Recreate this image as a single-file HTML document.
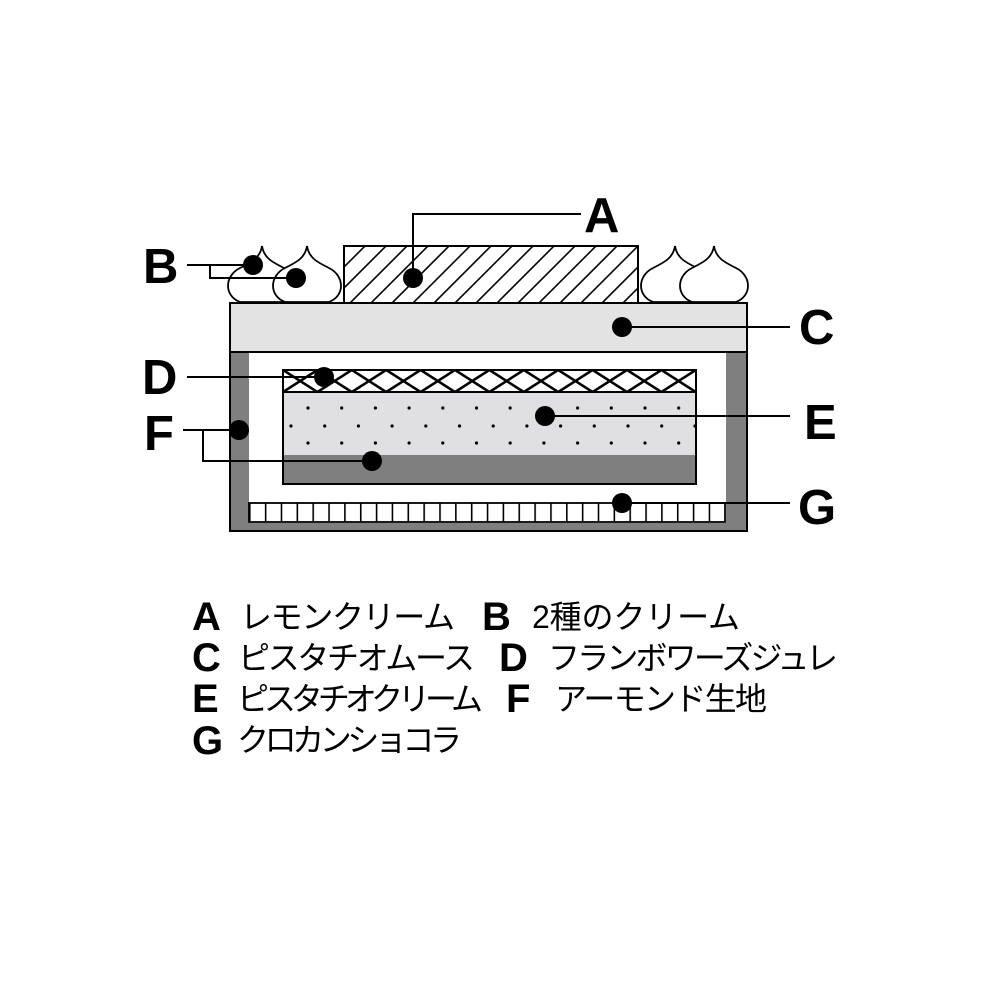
<!DOCTYPE html>
<html><head><meta charset="utf-8"><style>
html,body{margin:0;padding:0;background:#fff;width:1000px;height:1000px;overflow:hidden}
svg{display:block}
.lbl{font-family:"Liberation Sans",sans-serif;font-weight:bold;fill:#000}
.jp{font-family:"Liberation Sans","Noto Sans CJK JP",sans-serif;fill:#000}
</style></head><body>
<svg width="1000" height="1000" viewBox="0 0 1000 1000" xmlns="http://www.w3.org/2000/svg">
<defs>
<pattern id="hatch" patternUnits="userSpaceOnUse" width="21" height="21" patternTransform="translate(344,246)">
<line x1="-2" y1="23" x2="23" y2="-2" stroke="#000" stroke-width="1.6"/>
<line x1="-12" y1="12" x2="12" y2="-12" stroke="#000" stroke-width="1.6"/>
<line x1="9" y1="33" x2="33" y2="9" stroke="#000" stroke-width="1.6"/>
</pattern>
<pattern id="xh" patternUnits="userSpaceOnUse" width="34.4" height="22" patternTransform="translate(283,370)">
<line x1="0" y1="0" x2="34.4" y2="22" stroke="#000" stroke-width="2.6"/>
<line x1="0" y1="22" x2="34.4" y2="0" stroke="#000" stroke-width="2.6"/>
</pattern>
<pattern id="grid" patternUnits="userSpaceOnUse" width="15.85" height="19" patternTransform="translate(249,503)">
<line x1="0.8" y1="0" x2="0.8" y2="19" stroke="#000" stroke-width="1.6"/>
</pattern>
</defs>

<!-- meringues -->
<g fill="#fff" stroke="#000" stroke-width="1.8">
<path d="M240,302 C224,296 224,276 240,268 C252,262 260,258 262,246 C264,258 272,262 284,268 C300,276 300,296 284,302 Z"/>
<path d="M285,302 C269,296 269,276 285,268 C297,262 305,258 307,246 C309,258 317,262 329,268 C345,276 345,296 329,302 Z"/>
<path d="M653,302 C637,296 637,276 653,268 C665,262 673,258 675,246 C677,258 685,262 697,268 C713,276 713,296 697,302 Z"/>
<path d="M692,302 C676,296 676,276 692,268 C704,262 712,258 714,246 C716,258 724,262 736,268 C752,276 752,296 736,302 Z"/>
</g>
<!-- A block -->
<rect x="344" y="246" width="294" height="57" fill="#fff"/>
<rect x="344" y="246" width="294" height="57" fill="url(#hatch)" stroke="#000" stroke-width="2"/>

<!-- outer box -->
<rect x="230" y="303" width="517" height="228" fill="#7f7f7f" stroke="#000" stroke-width="2"/>
<rect x="249" y="352" width="477" height="171" fill="#fff"/>
<rect x="230" y="303" width="517" height="49" fill="#e3e3e3" stroke="#000" stroke-width="2"/>

<!-- inner layers -->
<rect x="283" y="392" width="413" height="63" fill="#e0e0e2"/>
<g fill="#000">
<circle cx="308" cy="408" r="1.6"/><circle cx="341.7" cy="408" r="1.6"/><circle cx="375.4" cy="408" r="1.6"/><circle cx="409.1" cy="408" r="1.6"/><circle cx="442.8" cy="408" r="1.6"/><circle cx="476.5" cy="408" r="1.6"/><circle cx="510.2" cy="408" r="1.6"/><circle cx="543.9" cy="408" r="1.6"/><circle cx="577.6" cy="408" r="1.6"/><circle cx="611.3" cy="408" r="1.6"/><circle cx="645" cy="408" r="1.6"/><circle cx="678.7" cy="408" r="1.6"/>
<circle cx="291" cy="426" r="1.6"/><circle cx="324.7" cy="426" r="1.6"/><circle cx="358.4" cy="426" r="1.6"/><circle cx="392.1" cy="426" r="1.6"/><circle cx="425.8" cy="426" r="1.6"/><circle cx="459.5" cy="426" r="1.6"/><circle cx="493.2" cy="426" r="1.6"/><circle cx="526.9" cy="426" r="1.6"/><circle cx="560.6" cy="426" r="1.6"/><circle cx="594.3" cy="426" r="1.6"/><circle cx="628" cy="426" r="1.6"/><circle cx="661.7" cy="426" r="1.6"/><circle cx="695" cy="426" r="1.6"/>
<circle cx="308" cy="443" r="1.6"/><circle cx="341.7" cy="443" r="1.6"/><circle cx="375.4" cy="443" r="1.6"/><circle cx="409.1" cy="443" r="1.6"/><circle cx="442.8" cy="443" r="1.6"/><circle cx="476.5" cy="443" r="1.6"/><circle cx="510.2" cy="443" r="1.6"/><circle cx="543.9" cy="443" r="1.6"/><circle cx="577.6" cy="443" r="1.6"/><circle cx="611.3" cy="443" r="1.6"/><circle cx="645" cy="443" r="1.6"/><circle cx="678.7" cy="443" r="1.6"/>
</g>
<rect x="283" y="455" width="413" height="29" fill="#7f7f7f"/>
<rect x="283" y="370" width="413" height="22" fill="#fff"/>
<rect x="283" y="370" width="413" height="22" fill="url(#xh)"/>
<line x1="283" y1="392" x2="696" y2="392" stroke="#000" stroke-width="2"/>
<rect x="283" y="370" width="413" height="114" fill="none" stroke="#000" stroke-width="2"/>

<!-- G strip -->
<rect x="249" y="503" width="476" height="19" fill="#fff"/>
<rect x="249" y="503" width="476" height="19" fill="url(#grid)" stroke="#000" stroke-width="1.8"/>

<!-- leaders -->
<g stroke="#000" stroke-width="2" fill="none">
<polyline points="413,278 413,214 581,214"/>
<line x1="187" y1="265" x2="253" y2="265"/>
<polyline points="210,265 210,278 296,278"/>
<line x1="622" y1="327" x2="790" y2="327"/>
<line x1="187" y1="377" x2="324" y2="377"/>
<line x1="545" y1="416" x2="790" y2="416"/>
<line x1="183" y1="430" x2="239" y2="430"/>
<polyline points="203,430 203,461 372,461"/>
<line x1="622" y1="503" x2="790" y2="503"/>
</g>
<g fill="#000">
<circle cx="413" cy="278" r="10"/>
<circle cx="253" cy="265" r="10"/>
<circle cx="296" cy="278" r="10"/>
<circle cx="622" cy="327" r="10"/>
<circle cx="324" cy="377" r="10"/>
<circle cx="545" cy="416" r="10"/>
<circle cx="239" cy="430" r="10"/>
<circle cx="372" cy="461" r="10"/>
<circle cx="622" cy="503" r="10"/>
</g>

<!-- diagram labels -->
<g class="lbl" font-size="49">
<text x="584" y="232">A</text>
<text x="143" y="283">B</text>
<text x="799" y="344">C</text>
<text x="142" y="394">D</text>
<text x="804" y="439">E</text>
<text x="144" y="450">F</text>
<text x="798" y="524">G</text>
</g>

<!-- legend -->
<g class="lbl" font-size="40">
<text x="192" y="630">A</text>
<text x="482" y="630">B</text>
<text x="192" y="671">C</text>
<text x="499" y="671">D</text>
<text x="192" y="712">E</text>
<text x="506" y="712">F</text>
<text x="192" y="754">G</text>
</g>
<g class="jp" font-size="32">
<text x="240" y="628" textLength="215">レモンクリーム</text>
<text x="532" y="628" textLength="208">2種のクリーム</text>
<text x="238" y="669" textLength="237">ピスタチオムース</text>
<text x="548" y="669" textLength="290">フランボワーズジュレ</text>
<text x="237" y="710" textLength="246">ピスタチオクリーム</text>
<text x="555" y="710" textLength="212">アーモンド生地</text>
<text x="237" y="751" textLength="225">クロカンショコラ</text>
</g>
</svg>
</body></html>
